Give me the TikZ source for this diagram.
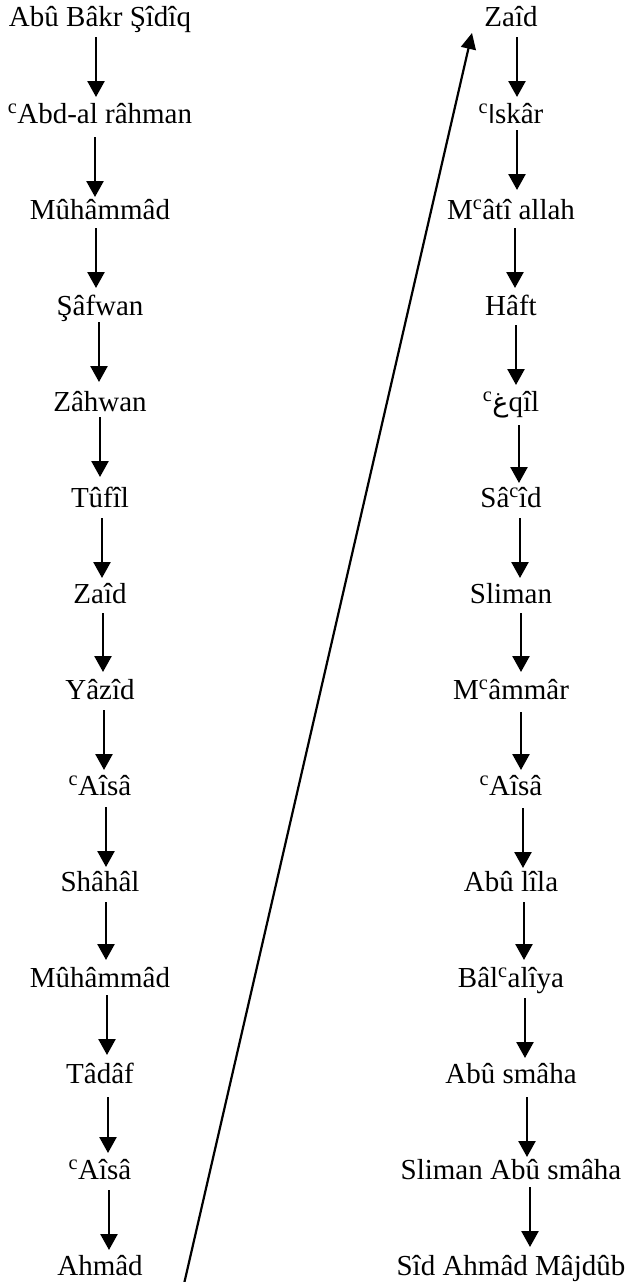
\documentclass[tikz,border=0pt]{standalone}
\usepackage{fontspec}
\setmainfont{Liberation Serif}
\newfontfamily\arabicfont[Script=Arabic]{DejaVu Sans}
\usetikzlibrary{arrows.meta}
\newcommand{\ayn}{\textsuperscript{c}}
\newcommand{\arglyph}[2]{{\arabicfont\fontsize{#1}{#1}\selectfont #2}}
\begin{document}
\begin{tikzpicture}[x=1pt,y=-1pt,
  person/.style={font=\fontsize{29}{32}\selectfont, inner sep=0pt, anchor=base},
  link/.style={line width=2.5pt, -{Triangle[length=16pt,width=17pt]}},
  longlink/.style={line width=2.2pt, -{Triangle[length=16pt,width=15pt]}}]
\useasboundingbox (0,0) rectangle (627,1282);
% left column
\node[person] (l0)  at (100,27)   {Abû Bâkr Şîdîq};
\node[person] (l1)  at (100,123)  {\ayn Abd-al râhman};
\node[person] (l2)  at (100,219)  {Mûhâmmâd};
\node[person] (l3)  at (100,315)  {Şâfwan};
\node[person] (l4)  at (100,411)  {Zâhwan};
\node[person] (l5)  at (100,507)  {Tûfîl};
\node[person] (l6)  at (100,603)  {Zaîd};
\node[person] (l7)  at (100,699)  {Yâzîd};
\node[person] (l8)  at (100,795)  {\ayn Aîsâ};
\node[person] (l9)  at (100,891)  {Shâhâl};
\node[person] (l10) at (100,987)  {Mûhâmmâd};
\node[person] (l11) at (100,1083) {Tâdâf};
\node[person] (l12) at (100,1179) {\ayn Aîsâ};
\node[person] (l13) at (100,1275) {Ahmâd};
% right column
\node[person] (r0)  at (511,27)   {Zaîd};
\node[person] (r1)  at (511,123)  {\ayn\arglyph{25}{ا}skâr};
\node[person] (r2)  at (511,219)  {M\ayn âtî allah};
\node[person] (r3)  at (511,315)  {Hâft};
\node[person] (r4)  at (511,411)  {\ayn\arglyph{27}{غ}qîl};
\node[person] (r5)  at (511,507)  {Sâ\ayn îd};
\node[person] (r6)  at (511,603)  {Sliman};
\node[person] (r7)  at (511,699)  {M\ayn âmmâr};
\node[person] (r8)  at (511,795)  {\ayn Aîsâ};
\node[person] (r9)  at (511,891)  {Abû lîla};
\node[person] (r10) at (511,987)  {Bâl\ayn alîya};
\node[person] (r11) at (511,1083) {Abû smâha};
\node[person] (r12) at (511,1179) {Sliman Abû smâha};
\node[person] (r13) at (511,1275) {Sîd Ahmâd Mâjdûb};
% left arrows
\foreach \a/\dx/\s/\e [evaluate=\a as \b using int(\a+1)] in
  {0/-4/10/26, 1/-5/14/22, 2/-4/9/27, 3/-1/7/29, 4/0/6/30, 5/2/11/25, 6/3/10/27,
   7/4/11/25, 8/6/12/24, 9/6/11/27, 10/7/8/28, 11/8/14/26, 12/9/11/25}
  \draw[link] ([shift={(\dx,\s)}]l\a.base) -- ([shift={(\dx,-\e)}]l\b.base);
% right arrows
\foreach \a/\dx/\s/\e [evaluate=\a as \b using int(\a+1)] in
  {0/6/10/26, 1/6/7/29, 2/4/9/27, 3/5/10/26, 4/8/14/24, 5/9/11/25, 6/10/10/27,
   7/10/13/25, 8/12/13/23, 9/13/11/27, 10/14/11/25, 11/16/14/22, 12/19/8/28}
  \draw[link] ([shift={(\dx,\s)}]r\a.base) -- ([shift={(\dx,-\e)}]r\b.base);
% long connector
\coordinate (lstart) at (184,1284);
\coordinate (ltip) at (472,33);
\draw[longlink] (lstart) -- (ltip);
\end{tikzpicture}
\end{document}
